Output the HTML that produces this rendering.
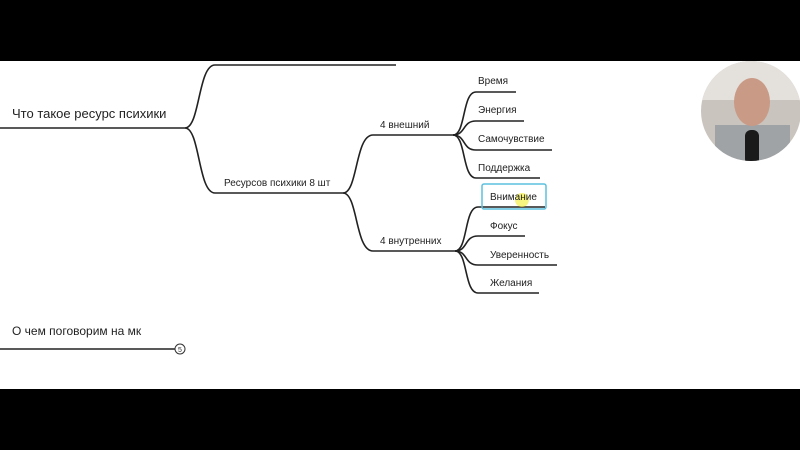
<!DOCTYPE html>
<html><head><meta charset="utf-8"><style>
body{margin:0;width:800px;height:450px;overflow:hidden;background:#000;font-family:"Liberation Sans","DejaVu Sans",sans-serif}
</style></head><body>
<svg width="800" height="450" viewBox="0 0 800 450" xmlns="http://www.w3.org/2000/svg" style="position:absolute;left:0;top:0">
<rect x="0" y="61" width="800" height="328" fill="#fff"/>
<g fill="none" stroke="#222" stroke-width="1.6">
<path d="M0 128 H185 C200 128 198 65 215 65 H396"/>
<path d="M185 128 C200 128 198 193 215 193 H343"/>
<path d="M343 193 C358 193 355 135 373 135 H453"/>
<path d="M343 193 C358 193 355 251 373 251 H455"/>
<path d="M453 135 C466 135 462 92 476 92 H516"/>
<path d="M453 135 C466 135 462 121 476 121 H524"/>
<path d="M453 135 C466 135 462 150 476 150 H552"/>
<path d="M453 135 C466 135 462 178 476 178 H540"/>
<path d="M455 251 C468 251 464 207 478 207 H545"/>
<path d="M455 251 C468 251 464 236 478 236 H525"/>
<path d="M455 251 C468 251 464 265 478 265 H557"/>
<path d="M455 251 C468 251 464 293 478 293 H539"/>
<path d="M0 349 H175"/>
</g>
<rect x="482" y="184" width="64" height="25" rx="2" fill="none" stroke="#5bc0de" stroke-width="1.5"/>
<circle cx="522" cy="200" r="7" fill="#f5f04a" opacity="0.7"/>
<circle cx="180" cy="349" r="5" fill="#fff" stroke="#333" stroke-width="1"/>
<text x="180" y="352" font-size="7" text-anchor="middle" fill="#333">5</text>
<g fill="#222">
<text x="12" y="118" font-size="13">Что такое ресурс психики</text>
<text x="224" y="186" font-size="10">Ресурсов психики 8 шт</text>
<text x="380" y="128" font-size="10">4 внешний</text>
<text x="380" y="244" font-size="10">4 внутренних</text>
<text x="478" y="84" font-size="10">Время</text>
<text x="478" y="113" font-size="10">Энергия</text>
<text x="478" y="142" font-size="10">Самочувствие</text>
<text x="478" y="171" font-size="10">Поддержка</text>
<text x="490" y="200" font-size="10">Внимание</text>
<text x="490" y="229" font-size="10">Фокус</text>
<text x="490" y="258" font-size="10">Уверенность</text>
<text x="490" y="286" font-size="10">Желания</text>
<text x="12" y="335" font-size="12">О чем поговорим на мк</text>
</g>
<defs><clipPath id="c"><circle cx="751" cy="111" r="50"/></clipPath></defs>
<g clip-path="url(#c)">
<rect x="700" y="60" width="102" height="102" fill="#c9c4bd"/>
<rect x="700" y="60" width="102" height="40" fill="#e4e0dc"/>
<rect x="715" y="125" width="75" height="40" fill="#9fa3a6"/>
<ellipse cx="752" cy="102" rx="18" ry="24" fill="#c99a86"/>
<rect x="745" y="130" width="14" height="35" rx="6" fill="#1a1a1a"/>
</g>
</svg>
</body></html>
